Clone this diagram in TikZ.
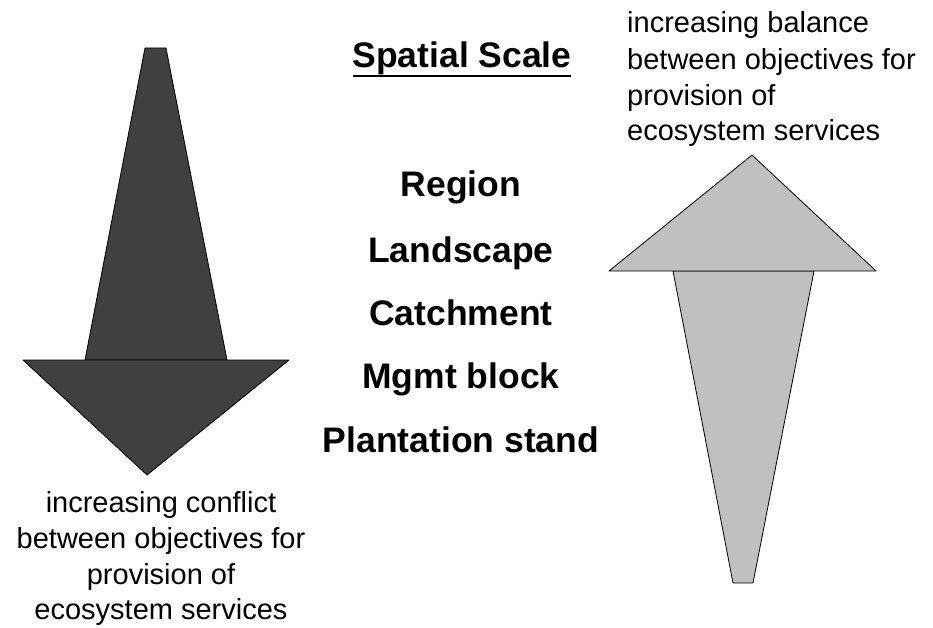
\documentclass[tikz,border=0pt]{standalone}
\usepackage{fontspec}
\setmainfont{Liberation Sans}
\definecolor{darkarrow}{HTML}{404040}
\definecolor{lightarrow}{HTML}{C0C0C0}
\begin{document}
\begin{tikzpicture}[x=1pt,y=-1pt,
  scalelabel/.style={anchor=base,font=\bfseries\fontsize{35.5}{40}\selectfont,inner sep=0pt},
  caption/.style={anchor=base,font=\fontsize{29}{35}\selectfont,inner sep=0pt},
  shapeline/.style={draw=black,line width=0.8pt,line join=round}]
\useasboundingbox (0,0) rectangle (933,628);
% left (dark) arrow
\filldraw[shapeline,fill=darkarrow] (145,48) -- (166,48) -- (227,360) -- (85,360) -- cycle;
\filldraw[shapeline,fill=darkarrow] (23,360) -- (289,360) -- (147,475) -- cycle;
% right (light) arrow
\filldraw[shapeline,fill=lightarrow] (673,271) -- (814,271) -- (753,583) -- (733,583) -- cycle;
\filldraw[shapeline,fill=lightarrow] (609,271) -- (876,271) -- (752,155) -- cycle;
% scale labels
\node[scalelabel] (title) at (462,68) {Spatial Scale};
\draw[line width=1.8pt] (353,76) -- (571,76);
\node[scalelabel] (region) at (461,197) {Region};
\node[scalelabel] (landscape) at (461,262) {Landscape};
\node[scalelabel] (catchment) at (461,325) {Catchment};
\node[scalelabel] (mgmt) at (461,388) {Mgmt block};
\node[scalelabel] (stand) at (461,452) {Plantation stand};
% left caption
\node[caption] (lc1) at (161,512) {increasing conflict};
\node[caption] (lc2) at (161,548) {between objectives for};
\node[caption] (lc3) at (161,584) {provision of};
\node[caption] (lc4) at (161,619) {ecosystem services};
% right caption
\node[caption,anchor=base west] (rc1) at (627,33) {increasing balance};
\node[caption,anchor=base west] (rc2) at (627,70) {between objectives for};
\node[caption,anchor=base west] (rc3) at (627,106) {provision of};
\node[caption,anchor=base west] (rc4) at (627,141) {ecosystem services};
\end{tikzpicture}
\end{document}
